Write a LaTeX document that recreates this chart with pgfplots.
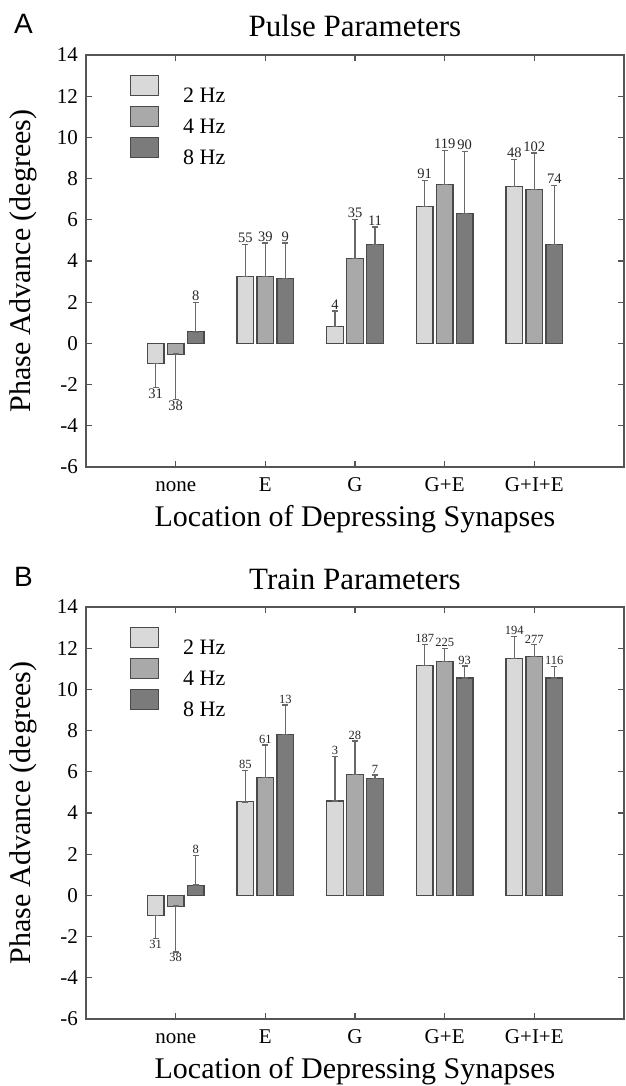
\documentclass[border=0pt]{standalone}
\usepackage{fontspec}
\setmainfont{Liberation Serif}
\newfontfamily\sansf{Liberation Sans}
\usepackage{pgfplots}
\usepackage{pgfplotstable}
\pgfplotsset{compat=1.18}
\newcommand{\fs}[1]{\fontsize{#1}{#1}\selectfont}
\definecolor{ctwo}{HTML}{D9D9D9}
\definecolor{cfour}{HTML}{A9A9A9}
\definecolor{ceight}{HTML}{7B7B7B}
\definecolor{edgec}{HTML}{4A4A4A}
\definecolor{errc}{HTML}{686868}
\definecolor{axc}{HTML}{555555}

% Panel A (Pulse)
\pgfplotstableread{
x y ep em top n
1 -0.97 0 1.16 -2.13 31
2 3.26 1.55 0 4.81 55
3 0.81 0.76 0 1.57 4
4 6.63 1.29 0 7.92 91
5 7.60 1.33 0 8.93 48
}\Atwo
\pgfplotstableread{
x y ep em top n
1 -0.52 0 2.20 -2.72 38
2 3.26 1.61 0 4.87 39
3 4.13 1.89 0 6.02 35
4 7.70 1.65 0 9.35 119
5 7.47 1.78 0 9.25 102
}\Afour
\pgfplotstableread{
x y ep em top n
1 0.56 1.41 0 1.97 8
2 3.15 1.72 0 4.87 9
3 4.81 0.84 0 5.65 11
4 6.30 3.00 0 9.30 90
5 4.81 2.87 0 7.68 74
}\Aeight
% Panel B (Train)
\pgfplotstableread{
x y ep em top n
1 -0.96 0 1.13 -2.09 31
2 4.54 1.54 0 6.08 85
3 4.58 2.18 0 6.76 3
4 11.17 1.00 0 12.17 187
5 11.49 1.08 0 12.57 194
}\Btwo
\pgfplotstableread{
x y ep em top n
1 -0.52 0 2.22 -2.74 38
2 5.71 1.59 0 7.30 61
3 5.87 1.62 0 7.49 28
4 11.37 0.63 0 12.00 225
5 11.60 0.57 0 12.17 277
}\Bfour
\pgfplotstableread{
x y ep em top n
1 0.50 1.44 0 1.94 8
2 7.82 1.42 0 9.24 13
3 5.68 0.16 0 5.84 7
4 10.55 0.59 0 11.14 93
5 10.55 0.55 0 11.10 116
}\Beight

\pgfplotsset{
 panel/.style={
  scale only axis, width=538pt, height=412pt,
  xmin=0, xmax=6, ymin=-6, ymax=14,
  xtick={1,2,3,4,5}, xticklabels={none,E,G,G+E,G+I+E},
  ytick={-6,-4,...,14}, yticklabels={-6,-4,-2,0,2,4,6,8,10,12,14},
  tick align=inside, tick pos=both, xticklabel pos=lower, yticklabel pos=left,
  major tick length=6pt,
  axis line style={draw=axc, line width=1.2pt},
  every tick/.style={draw=axc, line width=1.2pt},
  tick label style={font=\fs{21}},
  xticklabel style={anchor=north, inner sep=0pt, text height=14pt, yshift=-10pt},
  yticklabel style={anchor=east, inner sep=0pt, xshift=-8pt},
  every axis x label/.style={at={([yshift=-59pt]axis description cs:0.5,0)}, anchor=base, font=\fs{30}},
  every axis y label/.style={at={([xshift=-56pt]axis description cs:0,0.5)}, rotate=90, anchor=base, font=\fs{30}},
  every axis title/.style={at={([yshift=18pt]axis description cs:0.5,1)}, anchor=base, font=\fs{31}},
  xlabel={Location of Depressing Synapses}, ylabel={Phase Advance (degrees)},
  legend style={at={(0.0818,0.9515)}, anchor=north west, draw=none, fill=none,
    inner sep=0pt, outer sep=0pt, row sep=3pt, column sep=24pt, font=\fs{22},
    nodes={inner sep=0pt, text depth=0pt}, cells={anchor=center}},
  clip=false,
 },
 bars/.style={ybar, bar width=16.5pt, bar shift=0pt, draw=edgec, line width=1.2pt,
   /pgfplots/legend image code/.code={\draw[##1, line width=1.2pt] (0pt,0pt) rectangle (28pt,20pt);},
   /pgfplots/error bars/y dir=both, /pgfplots/error bars/y explicit,
   /pgfplots/error bars/error bar style={draw=errc, line width=1.3pt},
   /pgfplots/error bars/error mark options={rotate=90, draw=errc, mark size=3pt, line width=1.3pt}},
 lblup/.style={only marks, mark=none, forget plot, nodes near coords, point meta=explicit symbolic,
   restrict y to domain=0:30,
   every node near coord/.style={anchor=south, inner sep=1.5pt, font=\fs{#1}, text=black!85}},
 lbldn/.style={only marks, mark=none, forget plot, nodes near coords, point meta=explicit symbolic,
   restrict y to domain=-30:0,
   every node near coord/.style={anchor=north, inner sep=1.5pt, font=\fs{#1}, text=black!85}},
}
% offset of the side bars: 20pt in axis units (538pt / 6 units)
\def\dx{0.22305}

\begin{document}
\begin{tikzpicture}
\useasboundingbox (0,0) rectangle (625pt,-1086pt);

\begin{axis}[panel, at={(86pt,-467pt)}, anchor=south west, title={Pulse Parameters}]
\addplot[bars, fill=ctwo] table[x expr=\thisrow{x}-\dx, y=y, y error plus=ep, y error minus=em] {\Atwo};
\addplot[bars, fill=cfour] table[x=x, y=y, y error plus=ep, y error minus=em] {\Afour};
\addplot[bars, fill=ceight] table[x expr=\thisrow{x}+\dx, y=y, y error plus=ep, y error minus=em] {\Aeight};
\legend{2 Hz, 4 Hz, 8 Hz}
\addplot[lblup=14.5] table[x expr=\thisrow{x}-\dx, y=top, meta=n] {\Atwo};
\addplot[lbldn=14.5] table[x expr=\thisrow{x}-\dx, y=top, meta=n] {\Atwo};
\addplot[lblup=14.5] table[x=x, y=top, meta=n] {\Afour};
\addplot[lbldn=14.5] table[x=x, y=top, meta=n] {\Afour};
\addplot[lblup=14.5] table[x expr=\thisrow{x}+\dx, y=top, meta=n] {\Aeight};
\end{axis}
\node[anchor=base west, font=\sansf\fs{28}, inner sep=0pt] at (14pt,-34pt) {A};

\begin{axis}[panel, at={(86pt,-1019pt)}, anchor=south west, title={Train Parameters}]
\addplot[bars, fill=ctwo] table[x expr=\thisrow{x}-\dx, y=y, y error plus=ep, y error minus=em] {\Btwo};
\addplot[bars, fill=cfour] table[x=x, y=y, y error plus=ep, y error minus=em] {\Bfour};
\addplot[bars, fill=ceight] table[x expr=\thisrow{x}+\dx, y=y, y error plus=ep, y error minus=em] {\Beight};
\legend{2 Hz, 4 Hz, 8 Hz}
\addplot[lblup=12.5] table[x expr=\thisrow{x}-\dx, y=top, meta=n] {\Btwo};
\addplot[lbldn=12.5] table[x expr=\thisrow{x}-\dx, y=top, meta=n] {\Btwo};
\addplot[lblup=12.5] table[x=x, y=top, meta=n] {\Bfour};
\addplot[lbldn=12.5] table[x=x, y=top, meta=n] {\Bfour};
\addplot[lblup=12.5] table[x expr=\thisrow{x}+\dx, y=top, meta=n] {\Beight};
\end{axis}
\node[anchor=base west, font=\sansf\fs{28}, inner sep=0pt] at (14pt,-586pt) {B};
\end{tikzpicture}
\end{document}
